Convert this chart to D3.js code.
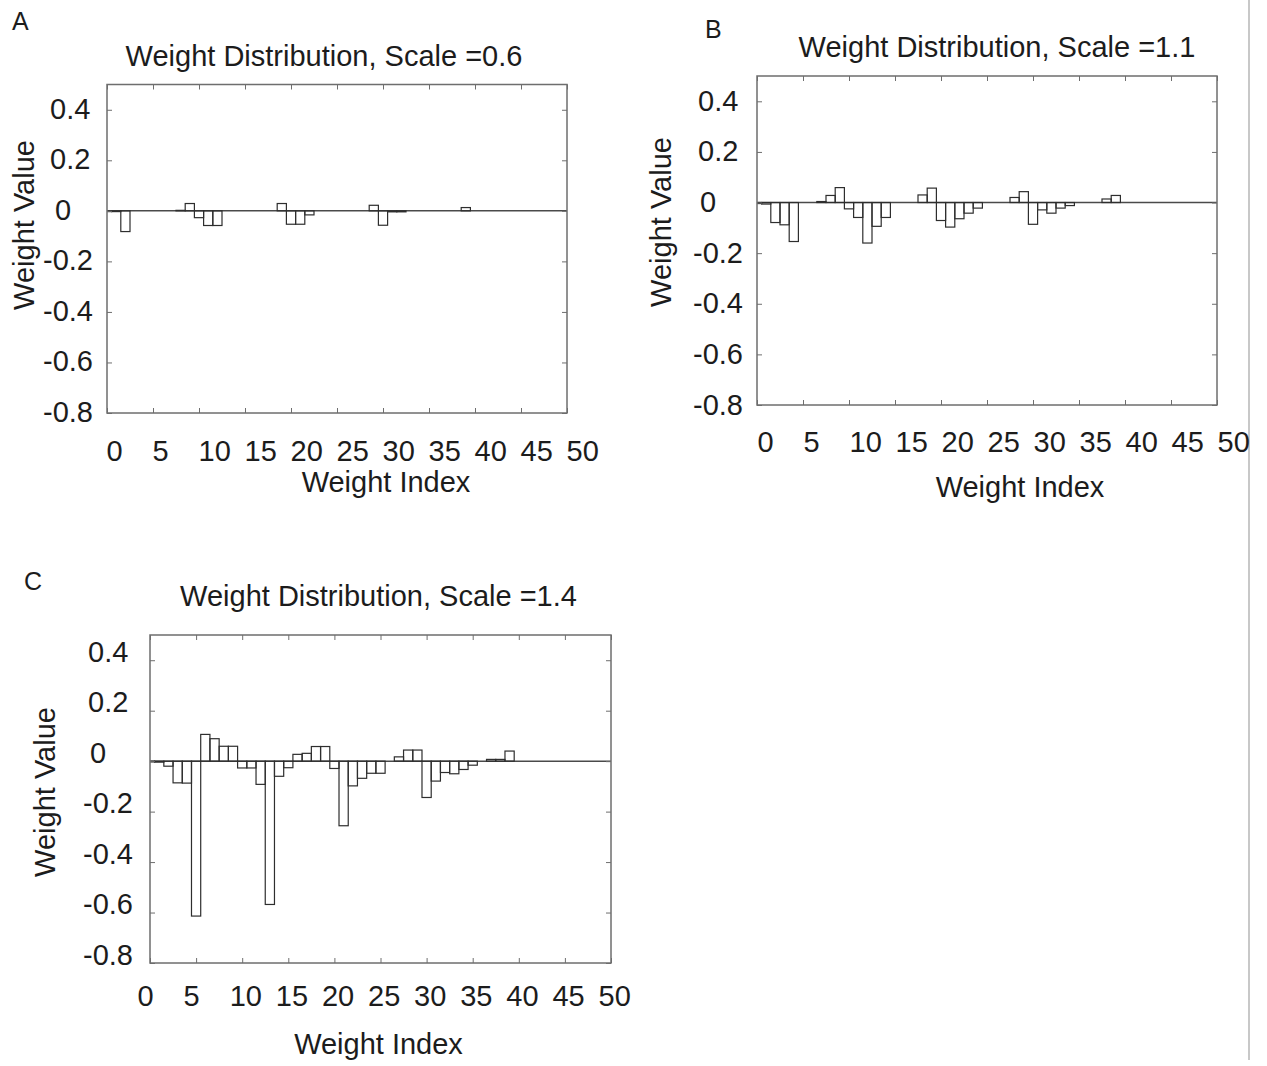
<!DOCTYPE html>
<html><head><meta charset="utf-8">
<script src="https://cdn.jsdelivr.net/npm/d3@7"></script>
<style>
body{margin:0;background:#fff}
svg{display:block}
text{font-family:"Liberation Sans",Arial,Helvetica,sans-serif;fill:#1c1c1c}
</style>
</head><body>
<svg id="chart" width="1267" height="1066"></svg>
<script>
// ---------- data ----------
const weightIndex = [0,1,2,3,4,5,6,7,8,9,10,11,12,13,14,15,16,17,18,19,20,21,22,23,24,25,26,27,28,29,30,31,32,33,34,35,36,37,38,39];
const valuesA = [-0.003,-0.003,-0.082,0,0,0,0,0,0.002,0.029,-0.027,-0.058,-0.058,0,0,0,0,0,0,0.029,-0.053,-0.053,-0.016,0,0,0,0,0,0,0.022,-0.057,-0.004,-0.004,0,0,0,0,0,0,0.013];
const valuesB = [-0.004,-0.006,-0.079,-0.088,-0.154,0,0,0.004,0.028,0.059,-0.025,-0.059,-0.16,-0.094,-0.059,0,0,0,0.03,0.057,-0.071,-0.097,-0.064,-0.042,-0.022,0,0,0,0.02,0.043,-0.086,-0.029,-0.042,-0.022,-0.012,0,0,0,0.014,0.028];
const valuesC = [-0.003,-0.004,-0.02,-0.086,-0.087,-0.614,0.106,0.089,0.059,0.059,-0.027,-0.027,-0.092,-0.568,-0.06,-0.026,0.027,0.031,0.058,0.058,-0.029,-0.256,-0.098,-0.068,-0.048,-0.048,0,0.017,0.044,0.044,-0.144,-0.079,-0.045,-0.05,-0.033,-0.016,0,0.007,0.007,0.04];
const xTickValues = [0,5,10,15,20,25,30,35,40,45,50];
const xTickLabels = ["0","5","10","15","20","25","30","35","40","45","50"];
const yTickValues = [-0.8,-0.6,-0.4,-0.2,0,0.2,0.4];
const yTickLabels = ["-0.8","-0.6","-0.4","-0.2","0","0.2","0.4"];
const panelLetters = ["A","B","C"];
const panelTitles = ["Weight Distribution, Scale =0.6","Weight Distribution, Scale =1.1","Weight Distribution, Scale =1.4"];
const xAxisTitle = "Weight Index";
const yAxisTitle = "Weight Value";
const xDomain = [0,50];
const yDomain = [-0.8,0.5];
const panelValues = [valuesA, valuesB, valuesC];

// ---------- layout ----------
const layouts = [
  {left:107,right:567,top:84.5,bottom:413, letterX:12,letterY:30, titleX:324, titleY:66,
   xLabY:461, xLabDx:-1, xTitleX:386, xTitleY:492, yTitleX:34, yTitleY:225,
   yLabDy:8.5, yPosX:50, yZeroX:55, yNegX:43},
  {left:757,right:1217,top:76,bottom:405, letterX:705,letterY:38, titleX:997, titleY:57,
   xLabY:452, xLabDx:0, xTitleX:1020, xTitleY:497, yTitleX:671, yTitleY:222,
   yLabDy:9, yPosX:698, yZeroX:700, yNegX:693},
  {left:150,right:611,top:635,bottom:963, letterX:24,letterY:590, titleX:378.5, titleY:606,
   xLabY:1006, xLabDx:-13, xTitleX:378.5, xTitleY:1054, yTitleX:55, yTitleY:792,
   yLabDy:1, yPosX:88, yZeroX:90, yNegX:83}
];

const svg = d3.select("#chart");
svg.append("rect").attr("width",1267).attr("height",1066).attr("fill","#fff");
// right separator line
svg.append("line").attr("x1",1249).attr("x2",1249).attr("y1",0).attr("y2",1060)
  .attr("stroke","#c8c8c8").attr("stroke-width",2);

const boxColor = "#6e6e6e";
const fs = 29;

layouts.forEach((L, p) => {
  const values = panelValues[p];
  const x = d3.scaleLinear().domain(xDomain).range([L.left, L.right]);
  const y = d3.scaleLinear().domain(yDomain).range([L.bottom, L.top]);
  const g = svg.append("g");
  const clipId = "clip" + p;
  g.append("clipPath").attr("id", clipId).append("rect")
    .attr("x", L.left).attr("y", L.top).attr("width", L.right - L.left).attr("height", L.bottom - L.top);

  // zero line
  g.append("line").attr("x1", x(xDomain[0])).attr("x2", x(xDomain[1]))
    .attr("y1", y(0)).attr("y2", y(0)).attr("stroke", "#4a4a4a").attr("stroke-width", 1.5);

  // bars
  const data = weightIndex.map((i, k) => ({i, v: values[k]})).filter(d => d.v !== 0);
  g.append("g").attr("clip-path", `url(#${clipId})`)
    .selectAll("rect").data(data).join("rect")
    .attr("x", d => x(d.i - 0.5))
    .attr("width", d => x(d.i + 0.5) - x(d.i - 0.5))
    .attr("y", d => y(Math.max(0, d.v)))
    .attr("height", d => Math.abs(y(d.v) - y(0)))
    .attr("fill", "none").attr("stroke", "#2e2e2e").attr("stroke-width", 1.2);

  // axes (inward ticks on all four sides)
  const axB = g.append("g").attr("transform", `translate(0,${L.bottom})`)
    .call(d3.axisBottom(x).tickValues(xTickValues).tickFormat((d,k)=>xTickLabels[k]).tickSize(-5).tickPadding(0));
  const axT = g.append("g").attr("transform", `translate(0,${L.top})`)
    .call(d3.axisTop(x).tickValues(xTickValues).tickFormat("").tickSize(-5));
  const axL = g.append("g").attr("transform", `translate(${L.left},0)`)
    .call(d3.axisLeft(y).tickValues(yTickValues).tickFormat((d,k)=>yTickLabels[k]).tickSize(-5).tickPadding(0));
  const axR = g.append("g").attr("transform", `translate(${L.right},0)`)
    .call(d3.axisRight(y).tickValues(yTickValues).tickFormat("").tickSize(-5));
  [axB, axT, axL, axR].forEach(a => {
    a.select(".domain").remove();
    a.selectAll(".tick line").attr("stroke", boxColor).attr("stroke-width", 1);
  });
  axB.selectAll(".tick text")
    .attr("y", L.xLabY - L.bottom).attr("dy", null).attr("dx", L.xLabDx)
    .attr("text-anchor", "start").attr("font-size", fs).attr("fill", "#1c1c1c")
    .style("font-family", '"Liberation Sans",Arial,Helvetica,sans-serif');
  axL.selectAll(".tick text")
    .attr("dy", null).attr("y", L.yLabDy)
    .attr("x", d => (d < 0 ? L.yNegX : (d === 0 ? L.yZeroX : L.yPosX)) - L.left)
    .attr("text-anchor", "start").attr("font-size", fs).attr("fill", "#1c1c1c")
    .style("font-family", '"Liberation Sans",Arial,Helvetica,sans-serif');

  // box
  g.append("rect").attr("x", L.left).attr("y", L.top)
    .attr("width", L.right - L.left).attr("height", L.bottom - L.top)
    .attr("fill", "none").attr("stroke", boxColor).attr("stroke-width", 1.5);

  // texts
  g.append("text").attr("x", L.letterX).attr("y", L.letterY).attr("font-size", 25).text(panelLetters[p]);
  g.append("text").attr("x", L.titleX).attr("y", L.titleY).attr("text-anchor", "middle").attr("font-size", fs).text(panelTitles[p]);
  g.append("text").attr("x", L.xTitleX).attr("y", L.xTitleY).attr("text-anchor", "middle").attr("font-size", fs).text(xAxisTitle);
  g.append("text").attr("transform", `translate(${L.yTitleX},${L.yTitleY}) rotate(-90)`)
    .attr("text-anchor", "middle").attr("font-size", fs).text(yAxisTitle);
});
</script>
</body></html>
